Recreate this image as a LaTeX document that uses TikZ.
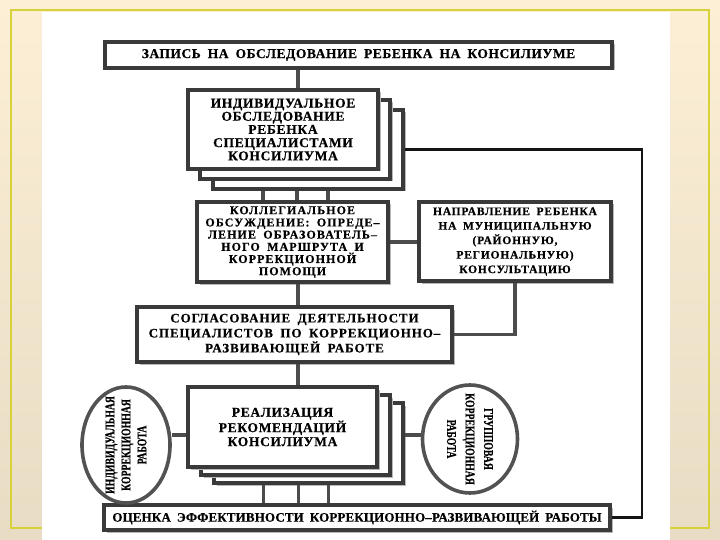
\documentclass[tikz,border=0pt]{standalone}
\usepackage{fontspec}
\setmainfont{Liberation Serif}
\newfontfamily\blokfont{Liberation Serif}[WordSpace=1.8,FakeBold=0.5]
\usetikzlibrary{shadows,shapes.geometric}
\definecolor{creme}{HTML}{FCEFD6}
\definecolor{cremedonker}{HTML}{E8DCC4}
\definecolor{geel}{HTML}{D8D23A}
\definecolor{rand}{HTML}{3A3A3A}
\definecolor{schaduw}{HTML}{B8B8B8}
\newcommand\bloktekst[3]{\blokfont\bfseries\fontsize{#1}{#2}\selectfont\addfontfeature{LetterSpace=#3}}

\begin{document}
\begin{tikzpicture}[x=1pt,y=-1pt,
  blok/.style={draw=rand, line width=3.2pt, fill=white, inner sep=2pt, align=center,
    drop shadow={shadow xshift=2.5pt, shadow yshift=-2.5pt, fill=schaduw, opacity=1}},
  ovaal/.style={ellipse, draw=black!68, line width=3.6pt, fill=white},
  lijn/.style={draw=black!70, line width=3.6pt}]
\useasboundingbox (0,0) rectangle (720,540);
\shade[top color=creme, bottom color=cremedonker] (0,0) rectangle (720,540);
\draw[geel, line width=1.6pt] (11,10) rectangle (709,528);
\fill[white] (42,12) rectangle (670,540);
\coordinate (stam) at (298,0);
\coordinate (midden) at (0,435);
\coordinate (zijlijn) at (642,0);

\node[blok, minimum width=507, minimum height=26, font={\bloktekst{13.5}{14}{4}}] (zapis) at (358.5,55) {ЗАПИСЬ НА ОБСЛЕДОВАНИЕ РЕБЕНКА НА КОНСИЛИУМЕ};

\node[blok, minimum width=190, minimum height=79] (ind3) at (308,149.5) {};
\node[blok, minimum width=190, minimum height=79] (ind2) at (295,139.5) {};
\node[blok, minimum width=190, minimum height=79, font={\bloktekst{13.5}{13.2}{5}}] (ind) at (283,129.5) {ИНДИВИДУАЛЬНОЕ\\ОБСЛЕДОВАНИЕ\\РЕБЕНКА\\СПЕЦИАЛИСТАМИ\\КОНСИЛИУМА};

\node[blok, minimum width=191, minimum height=80, font={\bloktekst{12}{12.2}{9}}] (koll) at (292.5,242) {КОЛЛЕГИАЛЬНОЕ\\ОБСУЖДЕНИЕ: ОПРЕДЕ–\\ЛЕНИЕ ОБРАЗОВАТЕЛЬ–\\НОГО МАРШРУТА И\\КОРРЕКЦИОННОЙ\\ПОМОЩИ};
\node[blok, minimum width=192, minimum height=79, font={\bloktekst{11.5}{14.5}{7}}] (napr) at (515,241.5) {НАПРАВЛЕНИЕ РЕБЕНКА\\НА МУНИЦИПАЛЬНУЮ\\(РАЙОННУЮ,\\РЕГИОНАЛЬНУЮ)\\КОНСУЛЬТАЦИЮ};

\node[blok, minimum width=315, minimum height=55, font={\bloktekst{13}{15}{7}}] (sogl) at (294.5,334.5) {СОГЛАСОВАНИЕ ДЕЯТЕЛЬНОСТИ\\СПЕЦИАЛИСТОВ ПО КОРРЕКЦИОННО–\\РАЗВИВАЮЩЕЙ РАБОТЕ};

\node[blok, minimum width=189, minimum height=80] (real3) at (308.5,443) {};
\node[blok, minimum width=189, minimum height=80] (real2) at (295.5,435) {};
\node[blok, minimum width=189, minimum height=80, font={\bloktekst{13.5}{14}{5}}] (real) at (282.5,427) {РЕАЛИЗАЦИЯ\\РЕКОМЕНДАЦИЙ\\КОНСИЛИУМА};

\node[blok, minimum width=506, minimum height=25, font={\bloktekst{13}{13}{1}}] (ocen) at (357,517.5) {ОЦЕНКА ЭФФЕКТИВНОСТИ КОРРЕКЦИОННО–РАЗВИВАЮЩЕЙ РАБОТЫ};

\node[ovaal, minimum width=88, minimum height=116] (indkor) at (126,445) {};
\node[rotate=90, align=center, font={\bloktekst{13.5}{16}{0}\addfontfeature{FakeStretch=0.72}}] (indkortekst) at (indkor) {ИНДИВИДУАЛЬНАЯ\\КОРРЕКЦИОННАЯ\\РАБОТА};
\node[ovaal, minimum width=95, minimum height=108] (grkor) at (470,439) {};
\node[rotate=-90, align=center, font={\bloktekst{13.5}{18.5}{0}\addfontfeature{FakeStretch=0.72}}] (grkortekst) at (grkor) {ГРУППОВАЯ\\КОРРЕКЦИОННАЯ\\РАБОТА};

\draw[lijn] (zapis.south -| stam) -- (ind.north -| stam);
\foreach \dx in {-45,-11,20}
  \draw[lijn] ([xshift=\dx pt]ind3.south) -- ([xshift=\dx pt]ind3.south |- koll.north);
\draw[lijn] (koll.east) -- (koll.east -| napr.west);
\draw[lijn] (napr.south) |- (sogl.east);
\draw[lijn] (koll.south -| stam) -- (sogl.north -| stam);
\draw[lijn] (sogl.south -| stam) -- (real.north -| stam);
\foreach \dx in {-45,-10,20}
  \draw[lijn] ([xshift=\dx pt]real3.south) -- ([xshift=\dx pt]real3.south |- ocen.north);
\draw[lijn] (real.west |- midden) -- (indkor.east |- midden);
\draw[lijn] (real3.east |- midden) -- (grkor.west |- midden);
\draw[lijn, draw=black!92, line width=2.6pt] (ind3.east) -| (zijlijn |- ocen.east) -- (ocen.east);
\end{tikzpicture}
\end{document}
